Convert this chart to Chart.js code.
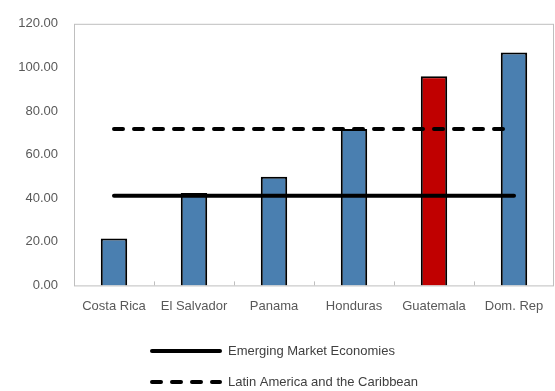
<!DOCTYPE html>
<html>
<head>
<meta charset="utf-8">
<script src="https://cdn.jsdelivr.net/npm/chart.js@4.4.0/dist/chart.umd.min.js"></script>
<style>
  html, body { margin: 0; padding: 0; background: #fff; }
  #wrap { width: 555px; height: 391px; }
</style>
</head>
<body>
<div id="wrap"><canvas id="chart" width="555" height="391"></canvas></div>
<script>
var countries = ['Costa Rica', 'El Salvador', 'Panama', 'Honduras', 'Guatemala', 'Dom. Rep'];
var values = [21.5, 42.4, 49.8, 71.7, 95.9, 106.8];
var barColors = ['#4a7fb0', '#4a7fb0', '#4a7fb0', '#4a7fb0', '#c00000', '#4a7fb0'];
var emeLevel = [41.1, 41.1, 41.1, 41.1, 41.1, 41.1];
var lacLevel = [71.7, 71.7, 71.7, 71.7, 71.7, 71.7];
var legendLabels = ['Emerging Market Economies', 'Latin America and the Caribbean'];

var font = "'Liberation Sans', Arial, sans-serif";

// grey frame round the plot area, like the Excel original
var frame = {
    id: 'frame',
    beforeDatasetsDraw: function(chart) {
        var a = chart.chartArea, ctx = chart.ctx;
        ctx.save();
        ctx.strokeStyle = '#bfbfbf';
        ctx.lineWidth = 1;
        ctx.strokeRect(a.left + 0.5, a.top + 0.5, a.right - a.left - 1, a.bottom - a.top);
        // small tick marks between categories, pointing up into the plot
        var x = chart.scales.x;
        for (var i = 1; i < countries.length; i++) {
            var px = Math.round((x.getPixelForValue(i - 1) + x.getPixelForValue(i)) / 2) + 0.5;
            ctx.beginPath();
            ctx.moveTo(px, a.bottom);
            ctx.lineTo(px, a.bottom - 4);
            ctx.stroke();
        }
        ctx.restore();
    }
};

// legend stacked vertically under the chart
var stackedLegend = {
    id: 'stackedLegend',
    afterDraw: function(chart) {
        var ctx = chart.ctx;
        var rows = [351, 382];
        ctx.save();
        ctx.font = '13px ' + font;
        ctx.textBaseline = 'middle';
        legendLabels.forEach(function(label, i) {
            var ds = chart.data.datasets[i + 1];
            ctx.strokeStyle = '#000';
            ctx.lineWidth = 4;
            ctx.lineCap = 'round';
            ctx.setLineDash(i === 0 ? [] : [9, 11]);
            ctx.beginPath();
            ctx.moveTo(152, rows[i]);
            ctx.lineTo(220, rows[i]);
            ctx.stroke();
            ctx.setLineDash([]);
            ctx.fillStyle = '#404040';
            ctx.fillText(ds.label, 228, rows[i]);
        });
        ctx.restore();
    }
};

new Chart(document.getElementById('chart'), {
    data: {
        labels: countries,
        datasets: [{
            type: 'bar',
            label: 'Countries',
            data: values,
            backgroundColor: barColors,
            borderColor: '#000',
            borderWidth: 2,
            barPercentage: 0.33,
            categoryPercentage: 1,
            order: 2
        }, {
            type: 'line',
            label: legendLabels[0],
            data: emeLevel,
            borderColor: '#000',
            borderWidth: 4,
            borderCapStyle: 'round',
            pointRadius: 0,
            fill: false,
            order: 1
        }, {
            type: 'line',
            label: legendLabels[1],
            data: lacLevel,
            borderColor: '#000',
            borderWidth: 4,
            borderDash: [9, 11],
            borderCapStyle: 'round',
            pointRadius: 0,
            fill: false,
            order: 1
        }]
    },
    options: {
        responsive: false,
        animation: false,
        layout: { padding: { top: 22, right: 1, bottom: 72, left: 0 } },
        plugins: {
            legend: { display: false },
            tooltip: { enabled: false }
        },
        scales: {
            x: {
                offset: true,
                grid: { display: false },
                border: { display: false },
                ticks: { color: '#595959', font: { family: font, size: 13 }, padding: 5, maxRotation: 0 }
            },
            y: {
                min: 0,
                max: 120,
                grid: { display: false, drawTicks: false },
                border: { display: false },
                afterFit: function(s) { s.width = 74; },
                ticks: {
                    stepSize: 20,
                    padding: 16,
                    color: '#595959',
                    font: { family: font, size: 13 },
                    callback: function(v) { return v.toFixed(2); }
                }
            }
        }
    },
    plugins: [frame, stackedLegend]
});
</script>
</body>
</html>
